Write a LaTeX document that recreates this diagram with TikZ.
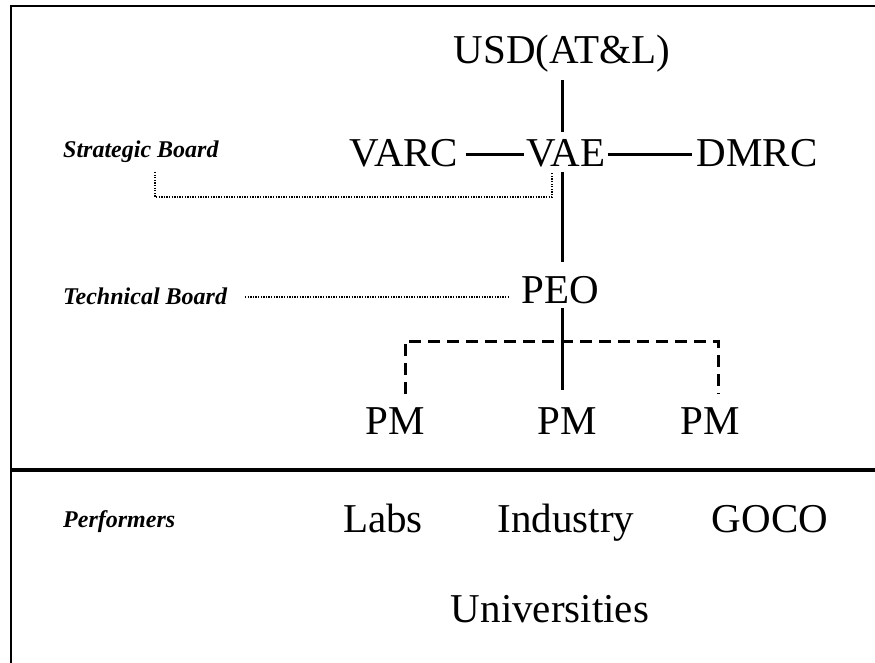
\documentclass[tikz,border=0pt]{standalone}
\usepackage{fontspec}
\setmainfont{Liberation Serif}
\begin{document}
\begin{tikzpicture}[x=1pt,y=-1pt,
  big/.style={font=\fontsize{41}{48}\selectfont, inner sep=0pt, anchor=base},
  side/.style={font=\fontsize{24}{28}\selectfont\bfseries\itshape, inner sep=0pt, anchor=base west},
  frameline/.style={line width=2pt},
  sepline/.style={line width=4pt},
  solidline/.style={line width=3pt},
  dashline/.style={line width=3pt, dash pattern=on 12pt off 7pt},
  dotline/.style={line width=1.3pt, dash pattern=on 1.3pt off 1.3pt}]
\useasboundingbox (0,0) rectangle (875,663);
% frame
\draw[frameline] (875,6) -- (11,6) -- (11,663);
\draw[sepline] (11,470) -- (875,470);
% nodes
\node[big] (usd) at (562,64) {USD(AT\&L)};
\node[big] (varc) at (404,167) {VARC};
\node[big] (vae) at (566,167) {VAE};
\node[big] (dmrc) at (757,167) {DMRC};
\node[big] (peo) at (560,303) {PEO};
\node[big] (pmL) at (395,434) {PM};
\node[big] (pmM) at (567,434) {PM};
\node[big] (pmR) at (710,434) {PM};
\node[side] (sb) at (63,158) {Strategic Board};
\node[side] (tb) at (63,304) {Technical Board};
\node[side] (perf) at (63,527) {Performers};
\node[big] (labs) at (383,532) {Labs};
\node[big] (ind) at (566,532) {Industry};
\node[big] (goco) at (770,532) {GOCO};
\node[big] (univ) at (550,622) {Universities};
% coordinates
\coordinate (a1) at (562,80);
\coordinate (a2) at (562,132);
\coordinate (b1) at (562,172);
\coordinate (b2) at (562,262);
\coordinate (c1) at (562,308);
\coordinate (c2) at (562,390);
\coordinate (dL) at (405,394);
\coordinate (dLt) at (405,341);
\coordinate (dRt) at (718,341);
\coordinate (dR) at (718,394);
\coordinate (sL) at (155,172);
\coordinate (sLb) at (155,197);
\coordinate (sRb) at (552,197);
\coordinate (sR) at (552,172);
\coordinate (t1) at (245,297);
\coordinate (t2) at (508,297);
% connectors
\draw[solidline] (a1) -- (a2);
\draw[solidline] (b1) -- (b2);
\draw[solidline] (c1) -- (c2);
\draw[solidline] ([xshift=7pt]varc.east |- 0,155) -- ([xshift=-2pt]vae.west |- 0,155);
\draw[solidline] ([xshift=2pt]vae.east |- 0,155) -- ([xshift=-4pt]dmrc.west |- 0,155);
\draw[dashline] (dL) -- (dLt) -- (dRt) -- (dR);
\draw[dotline] (sL) -- (sLb) -- (sRb) -- (sR);
\draw[dotline] (t1) -- (t2);
\end{tikzpicture}
\end{document}
